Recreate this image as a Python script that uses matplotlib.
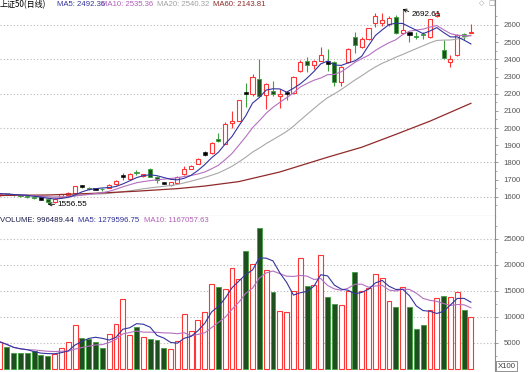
import matplotlib
matplotlib.use('Agg')
import matplotlib.pyplot as plt
import numpy as np
import pandas as pd

plt.rcParams['font.family'] = ['Liberation Sans', 'Noto Sans CJK SC', 'DejaVu Sans']

# ---------------- data ----------------
opens = [1610, 1620, 1614, 1610, 1605, 1600, 1590, 1585, 1572, 1598,
         1609, 1622, 1661, 1650, 1644, 1646, 1651, 1673, 1722, 1702,
         1742, 1721, 1762, 1712, 1680, 1668, 1682, 1732, 1763, 1791,
         1852, 1853, 1938, 1908, 2031, 2043, 2203, 2200, 2283, 2192,
         2214, 2184, 2203, 2203, 2330, 2390, 2368, 2393, 2382, 2386,
         2270, 2386, 2532, 2474, 2518, 2614, 2612, 2606, 2646, 2556,
         2551, 2535, 2545, 2528, 2652, 2452, 2384, 2426, 2545, 2556]
highs = [1622, 1624, 1618, 1614, 1609, 1604, 1596, 1588, 1590, 1616,
         1625, 1665, 1668, 1656, 1650, 1652, 1675, 1695, 1739, 1736,
         1753, 1733, 1768, 1719, 1686, 1688, 1722, 1778, 1785, 1824,
         1866, 1918, 1972, 2036, 2100, 2165, 2265, 2315, 2400, 2262,
         2275, 2230, 2215, 2305, 2395, 2415, 2395, 2470, 2458, 2390,
         2362, 2466, 2558, 2530, 2582, 2672, 2672, 2655, 2660, 2692.61,
         2561, 2561, 2560, 2635, 2680, 2510, 2425, 2545, 2555, 2606]
lows = [1606, 1610, 1604, 1600, 1592, 1587, 1582, 1556.55, 1566, 1595,
        1605, 1618, 1652, 1640, 1638, 1636, 1648, 1670, 1700, 1698,
        1727, 1716, 1712, 1680, 1674, 1664, 1675, 1728, 1760, 1788,
        1838, 1850, 1920, 1905, 1998, 2040, 2124, 2185, 2183, 2112,
        2188, 2114, 2165, 2200, 2325, 2328, 2345, 2388, 2330, 2244,
        2245, 2380, 2436, 2465, 2515, 2590, 2594, 2595, 2550, 2550,
        2503, 2517, 2518, 2522, 2645, 2400, 2357, 2420, 2510, 2554]
closes = [1618, 1612, 1608, 1604, 1597, 1591, 1590, 1572, 1584, 1613,
          1622, 1660, 1661, 1647, 1644, 1643, 1671, 1692, 1722, 1733,
          1737, 1730, 1717, 1695, 1680, 1684, 1715, 1763, 1781, 1822,
          1852, 1915, 1925, 2022, 2041, 2162, 2203, 2296, 2188, 2256,
          2200, 2198, 2203, 2300, 2385, 2368, 2390, 2425, 2382, 2270,
          2356, 2463, 2484, 2516, 2580, 2650, 2628, 2638, 2556, 2572,
          2551, 2530, 2540, 2633, 2670, 2408, 2402, 2541, 2538, 2559]
volumes = [5150, 4190, 2960, 2990, 2960, 3340, 2700, 2510, 2830, 4000,
           5080, 8360, 5920, 5730, 5150, 4050, 6700, 8630, 13450, 6560,
           7980, 6180, 5790, 5530, 4000, 3800, 5400, 10560, 7340, 9400,
           10950, 16350, 15830, 15390, 19440, 17370, 22650, 20200, 27150, 19100,
           14730, 11200, 10940, 14930, 21370, 16020, 16200, 22000, 13770, 12480,
           12230, 15060, 18600, 15060, 15570, 18280, 17500, 13000, 11970, 15780,
           11970, 7720, 8500, 11330, 13650, 14000, 13900, 14800, 11390, 9965]
vol_up = [1, 0, 0, 0, 0, 0, 0, 0, 1, 1,
          1, 1, 0, 0, 0, 0, 1, 1, 1, 1,
          0, 1, 0, 0, 0, 1, 1, 1, 1, 1,
          1, 1, 0, 1, 1, 1, 0, 1, 0, 1,
          0, 1, 1, 1, 1, 0, 1, 1, 0, 0,
          1, 1, 0, 1, 1, 1, 1, 1, 0, 1,
          0, 0, 0, 1, 1, 0, 1, 1, 0, 1]
ma60_idx = [0, 7, 14, 20, 26, 30, 35, 41, 48, 53, 58, 63, 69]
ma60_val = [1607, 1610, 1620, 1632, 1647, 1662, 1688, 1744, 1830, 1888, 1963, 2040, 2143.81]

price_ticks = [1600, 1700, 1800, 1900, 2000, 2100, 2200, 2300, 2400, 2500, 2600]
price_grid = [1600, 1800, 2000, 2200, 2400, 2600]
vol_ticks = [5000, 10000, 15000, 20000, 25000]

title = '上证50(日线)'
price_header = [('MA5: 2492.36', '#33339c'), ('MA10: 2535.36', '#b05fb8'),
                ('MA20: 2540.32', '#a0a0a0'), ('MA60: 2143.81', '#8e2a2a')]
vol_header = [('VOLUME: 996489.44', '#1c1c4c'), ('MA5: 1279596.75', '#30309a'),
              ('MA10: 1167057.63', '#b05fb8')]

# ---------------- styling ----------------
W, H = 529, 372
RED = '#ff3434'
GF = '#1f4f1f'
GE = '#3f9f3f'
AXC = '#8c8c8c'
GRIDC = '#b8b8b8'
FS = 5.6

fig = plt.figure(figsize=(W / 100, H / 100), dpi=100)
fig.patch.set_facecolor('white')
ax1 = fig.add_axes([0, 156 / H, 495 / W, 216 / H])
ax2 = fig.add_axes([0, 0, 495 / W, 156 / H])
XMAX = 72.53

for ax in (ax1, ax2):
    ax.set_xlim(0, XMAX)
    for s in ('top', 'left'):
        ax.spines[s].set_visible(False)
    ax.spines['right'].set_color(AXC)
    ax.spines['right'].set_linewidth(0.8)
    ax.xaxis.set_visible(False)
    ax.yaxis.tick_right()
    ax.tick_params(axis='y', which='major', length=2.5, width=0.6, colors=AXC,
                   labelcolor='#555555', labelsize=FS, pad=3.5)
    ax.tick_params(axis='y', which='minor', length=1.5, width=0.5, colors=AXC)

ax1.spines['bottom'].set_color(AXC)
ax1.spines['bottom'].set_linewidth(0.8)
ax2.spines['bottom'].set_visible(False)

ax1.set_ylim(1487.6, 2745.6)
ax2.set_ylim(-650, 29425)

o = np.array(opens, float)
h = np.array(highs, float)
l = np.array(lows, float)
c = np.array(closes, float)
v = np.array(volumes, float)
vu = np.array(vol_up, bool)
x = np.arange(len(c))

up = c > o
dn = c < o
dj = c == o

# grid
ax1.hlines(price_grid, 0, XMAX, colors=GRIDC, linestyles=(0, (1, 2)), lw=0.8, zorder=1)
ax2.hlines(vol_ticks, 0, XMAX, colors=GRIDC, linestyles=(0, (1, 2)), lw=0.8, zorder=1)

# candles
wick_col = np.where(up, RED, np.where(dn, GE, np.where(vu, RED, GE)))
ax1.vlines(x, l, h, colors=list(wick_col), lw=0.8, zorder=2)
ax1.bar(x[up], (c - o)[up], bottom=o[up], width=0.6, facecolor='white',
        edgecolor=RED, lw=0.8, zorder=3)
ax1.bar(x[dn], (o - c)[dn], bottom=c[dn], width=0.6, facecolor=GF,
        edgecolor=GE, lw=0.6, zorder=3)
ax1.bar(x[dj], 14, bottom=o[dj] - 7, width=0.6, facecolor='black',
        edgecolor='black', lw=0.4, zorder=3)

# moving averages
s = pd.Series(c)
ma5 = s.rolling(5, min_periods=1).mean()
ma10 = s.rolling(10, min_periods=1).mean()
ma20 = s.rolling(20, min_periods=1).mean()
ax1.plot(x, ma20, color='#a8a8a8', lw=0.8, zorder=4)
ax1.plot(ma60_idx, ma60_val, color='#902a2a', lw=0.9, zorder=4)
ax1.plot(x, ma10, color='#b470c0', lw=0.8, zorder=4)
ax1.plot(x, ma5, color='#34349e', lw=0.8, zorder=5)

ax1.set_yticks(price_ticks)
ax1.set_yticklabels([str(t) for t in price_ticks])
ax1.set_yticks(np.arange(1550, 2750, 100), minor=True)

# annotations
ax1.annotate('2692.61', xy=(59, 2692.61), xytext=(60.3, 2664), ha='left', va='center',
             fontsize=FS + 0.3, color='black',
             arrowprops=dict(arrowstyle='->', color='black', lw=0.6,
                             shrinkA=0, shrinkB=0, relpos=(0, 0.7)), zorder=6)
ax1.annotate('1556.55', xy=(7, 1556.55), xytext=(8.4, 1555), ha='left', va='center',
             fontsize=FS + 0.3, color='black',
             arrowprops=dict(arrowstyle='->', color='black', lw=0.6,
                             shrinkA=0, shrinkB=0, relpos=(0, 0.5)), zorder=6)

# volume
ax2.bar(x[vu], v[vu], width=0.72, facecolor='white', edgecolor=RED, lw=0.8, zorder=3)
ax2.bar(x[~vu], v[~vu], width=0.72, facecolor=GF, edgecolor=GE, lw=0.6, zorder=3)
sv = pd.Series(v)
ax2.plot(x, sv.rolling(10, min_periods=1).mean(), color='#b470c0', lw=0.8, zorder=4)
ax2.plot(x, sv.rolling(5, min_periods=1).mean(), color='#34349e', lw=0.8, zorder=5)
ax2.set_yticks(vol_ticks)
ax2.set_yticklabels([str(t) for t in vol_ticks])
ax2.set_yticks(np.arange(2500, 29000, 5000), minor=True)

# header texts (pixel positions)
def ptext(px, py, s, color, fs=FS, **kw):
    fig.text(px / W, 1 - py / H, s, color=color, fontsize=fs, ha='left', va='center', **kw)

ptext(0, 4.5, title, 'black', fs=5.8, family=['Noto Sans CJK SC', 'DejaVu Sans'])
for (s_, col), px in zip(price_header, [57, 101, 157, 213]):
    ptext(px, 4.5, s_, col)
for (s_, col), px in zip(vol_header, [0, 78, 144]):
    ptext(px, 220.5, s_, col)

# small icons top right and unit box
ptext(479, 3, '◇', '#999999', fs=5, family=['DejaVu Sans'])
ptext(488, 3, '□', '#999999', fs=5, family=['DejaVu Sans'])
fig.text(506.5 / W, 1 - 366 / H, 'X100', color='#404040', fontsize=FS, ha='center', va='center',
         bbox=dict(boxstyle='square,pad=0.2', fc='white', ec='#808080', lw=0.6))

fig.savefig('out.png', dpi=100, facecolor='white')
